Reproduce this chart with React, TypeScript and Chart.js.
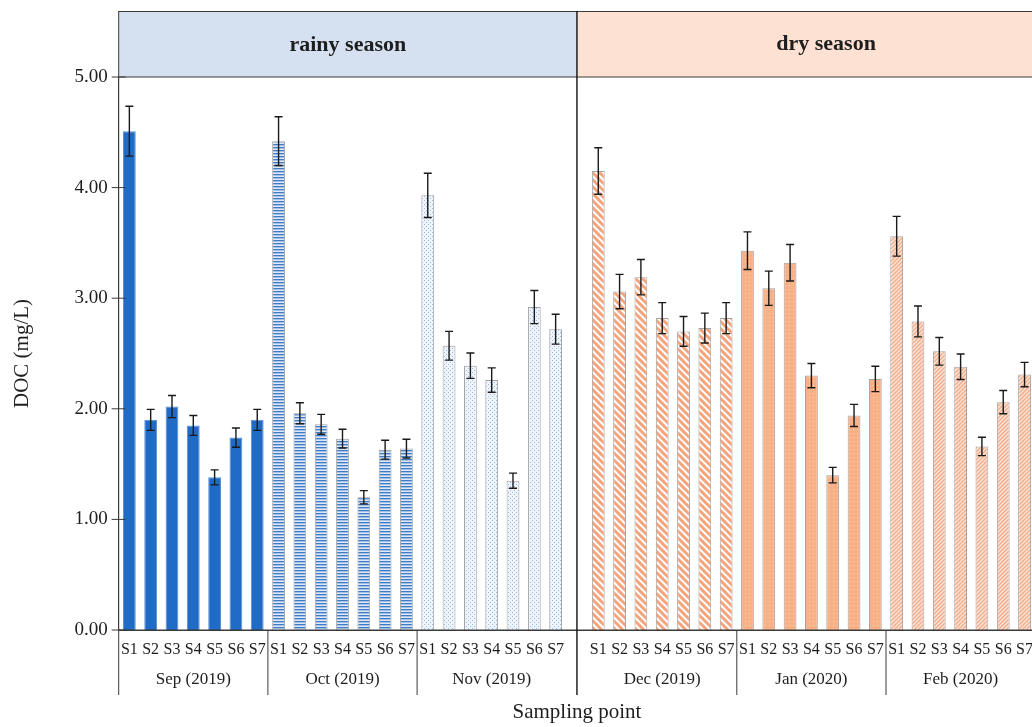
import React, { useEffect, useRef } from "react";
import { Chart, registerables } from "chart.js";

Chart.register(...registerables);

const sampleLabels = ["S1", "S2", "S3", "S4", "S5", "S6", "S7"];
const months = ["Sep (2019)", "Oct (2019)", "Nov (2019)", "Dec (2019)", "Jan (2020)", "Feb (2020)"];
const seasons = ["rainy season", "dry season"];
const yTicks = [0, 1, 2, 3, 4, 5];

const sepValues = [4.51, 1.9, 2.02, 1.85, 1.38, 1.74, 1.9];
const sepErrors = [0.225, 0.095, 0.1, 0.09, 0.068, 0.087, 0.095];
const octValues = [4.42, 1.96, 1.86, 1.73, 1.2, 1.63, 1.64];
const octErrors = [0.22, 0.095, 0.09, 0.085, 0.06, 0.085, 0.085];
const novValues = [3.93, 2.57, 2.39, 2.26, 1.35, 2.92, 2.72];
const novErrors = [0.2, 0.13, 0.115, 0.11, 0.068, 0.15, 0.135];
const decValues = [4.15, 3.06, 3.19, 2.82, 2.7, 2.73, 2.82];
const decErrors = [0.21, 0.155, 0.16, 0.14, 0.135, 0.135, 0.14];
const janValues = [3.43, 3.09, 3.32, 2.3, 1.4, 1.94, 2.27];
const janErrors = [0.17, 0.155, 0.165, 0.11, 0.07, 0.1, 0.115];
const febValues = [3.56, 2.79, 2.52, 2.38, 1.66, 2.06, 2.31];
const febErrors = [0.18, 0.14, 0.125, 0.115, 0.083, 0.105, 0.11];

const rainyValues = [sepValues, octValues, novValues];
const rainyErrors = [sepErrors, octErrors, novErrors];
const dryValues = [decValues, janValues, febValues];
const dryErrors = [decErrors, janErrors, febErrors];

const SERIF = "'Liberation Serif', 'DejaVu Serif', serif";
const TEXT = "#1e1e1e";
const LINE = "#3a3a3a";

// combined arrays: rainy months, one empty slot, dry months
const allLabels: string[] = [
  ...rainyValues.flatMap(() => sampleLabels),
  "",
  ...dryValues.flatMap(() => sampleLabels),
];
const allValues: (number | null)[] = [...rainyValues.flat(), null, ...dryValues.flat()];
const allErrors: (number | null)[] = [...rainyErrors.flat(), null, ...dryErrors.flat()];
const monthOf: number[] = [
  ...rainyValues.flatMap((m, k) => m.map(() => k)),
  -1,
  ...dryValues.flatMap((m, k) => m.map(() => k + 3)),
];
const monthRanges: [number, number][] = months.map((_, k) => {
  const idx = monthOf.map((m, i) => (m === k ? i : -1)).filter((i) => i >= 0);
  return [idx[0], idx[idx.length - 1]];
});
const gapIndex = allValues.indexOf(null);

function makePattern(kind: number): CanvasPattern | string {
  const c = document.createElement("canvas");
  const g = c.getContext("2d")!;
  if (kind === 0) return "#1f6bc5";
  if (kind === 1) {
    c.width = 4; c.height = 3;
    g.fillStyle = "#dde8f6"; g.fillRect(0, 0, 4, 3);
    g.fillStyle = "#3f7bc6"; g.fillRect(0, 0, 4, 1);
    g.fillStyle = "#a4c0e4"; g.fillRect(0, 1, 4, 1);
  } else if (kind === 2) {
    c.width = 4; c.height = 4;
    g.fillStyle = "#eef4fb"; g.fillRect(0, 0, 4, 4);
    g.fillStyle = "#9db9dd";
    g.fillRect(0, 0, 1, 1); g.fillRect(2, 2, 1, 1);
  } else if (kind === 3) {
    const p = 7;
    c.width = p; c.height = p;
    g.fillStyle = "#ffffff"; g.fillRect(0, 0, p, p);
    g.strokeStyle = "#f4a37b"; g.lineWidth = 3;
    g.beginPath();
    for (const o of [-p, 0, p]) {
      g.moveTo(o - 1, -1); g.lineTo(o + p + 1, p + 1);
    }
    g.stroke();
  } else if (kind === 4) {
    c.width = 4; c.height = 4;
    g.fillStyle = "#f8b186"; g.fillRect(0, 0, 4, 4);
    g.fillStyle = "#fcd2b8"; g.fillRect(1, 1, 1, 1);
  } else {
    const p = 4;
    c.width = p; c.height = p;
    g.fillStyle = "#fde4d6"; g.fillRect(0, 0, p, p);
    g.strokeStyle = "#f1ab88"; g.lineWidth = 1.3;
    g.beginPath();
    for (const o of [-p, 0, p]) {
      g.moveTo(o - 1, p + 1); g.lineTo(o + p + 1, -1);
    }
    g.stroke();
  }
  return g.createPattern(c, "repeat")!;
}

const decorPlugin = {
  id: "decor",
  beforeDatasetsDraw(chart: any) {
    const { ctx, chartArea } = chart;
    const x = chart.scales.x;
    const divX = x.getPixelForValue(gapIndex);
    const top = 11;
    ctx.save();
    ctx.fillStyle = "#d5e1f1";
    ctx.fillRect(chartArea.left, top, divX - chartArea.left, chartArea.top - top);
    ctx.fillStyle = "#fde1d3";
    ctx.fillRect(divX, top, chart.width - divX, chartArea.top - top);
    ctx.fillStyle = TEXT;
    ctx.font = `bold 22px ${SERIF}`;
    ctx.textAlign = "center";
    ctx.textBaseline = "middle";
    ctx.fillText(seasons[0], (chartArea.left + divX) / 2, 45);
    ctx.fillText(seasons[1], (divX + chartArea.right) / 2 + 20, 44);
    ctx.restore();
  },
  afterDatasetsDraw(chart: any) {
    const { ctx, chartArea } = chart;
    const x = chart.scales.x;
    const y = chart.scales.y;
    const meta = chart.getDatasetMeta(0);
    ctx.save();
    ctx.strokeStyle = "#1a1a1a";
    ctx.lineWidth = 1.4;
    meta.data.forEach((bar: any, i: number) => {
      const v = allValues[i];
      const e = allErrors[i];
      if (v == null || e == null) return;
      const bx = bar.x;
      const yt = y.getPixelForValue(v + e);
      const yb = y.getPixelForValue(v - e);
      ctx.beginPath();
      ctx.moveTo(bx, yt); ctx.lineTo(bx, yb);
      ctx.moveTo(bx - 4, yt); ctx.lineTo(bx + 4, yt);
      ctx.moveTo(bx - 4, yb); ctx.lineTo(bx + 4, yb);
      ctx.stroke();
    });
    ctx.restore();

    const divX = x.getPixelForValue(gapIndex);
    const top = 11;
    const bottom = chartArea.bottom + 65;
    ctx.save();
    ctx.strokeStyle = LINE;
    ctx.lineWidth = 1;
    ctx.beginPath();
    ctx.moveTo(chartArea.left, top + 0.5); ctx.lineTo(chart.width, top + 0.5);
    ctx.moveTo(chartArea.left, chartArea.top); ctx.lineTo(chart.width, chartArea.top);
    ctx.moveTo(chartArea.left, top); ctx.lineTo(chartArea.left, bottom);
    ctx.moveTo(chartArea.left, chartArea.bottom); ctx.lineTo(chart.width, chartArea.bottom);
    yTicks.forEach((t) => {
      const py = y.getPixelForValue(t);
      ctx.moveTo(chartArea.left - 7, py); ctx.lineTo(chartArea.left + 7, py);
    });
    monthRanges.forEach(([a], k) => {
      if (k === 0 || k === 3) return;
      const sx = (x.getPixelForValue(a) + x.getPixelForValue(a - 1)) / 2;
      ctx.moveTo(sx, chartArea.bottom); ctx.lineTo(sx, bottom);
    });
    ctx.stroke();
    ctx.strokeStyle = "#111";
    ctx.lineWidth = 1.4;
    ctx.beginPath();
    ctx.moveTo(divX, top); ctx.lineTo(divX, bottom);
    ctx.stroke();
    ctx.fillStyle = TEXT;
    ctx.font = `17px ${SERIF}`;
    ctx.textAlign = "center";
    ctx.textBaseline = "middle";
    monthRanges.forEach(([a, b], k) => {
      const cx = (x.getPixelForValue(a) + x.getPixelForValue(b)) / 2;
      ctx.fillText(months[k], cx, chartArea.bottom + 50);
    });
    ctx.restore();
  },
};

export default function App() {
  const ref = useRef<HTMLCanvasElement | null>(null);
  useEffect(() => {
    if (!ref.current) return;
    const kinds = monthOf.map((m) => (m < 0 ? 0 : m));
    const patterns = [0, 1, 2, 3, 4, 5].map((k) => makePattern(k));
    const chart = new Chart(ref.current, {
      type: "bar",
      data: {
        labels: allLabels,
        datasets: [
          {
            data: allValues as any,
            backgroundColor: kinds.map((k) => patterns[k]) as any,
            borderColor: kinds.map((k) => (k === 0 ? "#5a8fd2" : "#a3a3a3")),
            borderWidth: 1,
            barPercentage: 0.6,
            categoryPercentage: 1.0,
          },
        ],
      },
      options: {
        animation: false,
        responsive: false,
        devicePixelRatio: 1,
        layout: { padding: { top: 77, left: 0, right: 0, bottom: 0 } },
        plugins: { legend: { display: false }, tooltip: { enabled: false } },
        scales: {
          x: {
            ticks: {
              autoSkip: false,
              maxRotation: 0,
              minRotation: 0,
              font: { family: SERIF, size: 16 },
              color: TEXT,
              padding: 10,
            },
            grid: { display: false, drawTicks: false },
            border: { display: true, color: LINE, width: 1 },
            title: {
              display: true,
              text: "Sampling point",
              font: { family: SERIF, size: 21 },
              color: TEXT,
              padding: { top: 0, bottom: 2 },
            },
            afterFit: (s: any) => {
              s.height = 97;
            },
          },
          y: {
            min: 0,
            max: 5,
            afterBuildTicks: (s: any) => {
              s.ticks = yTicks.map((v) => ({ value: v }));
            },
            ticks: {
              callback: (v: any) => Number(v).toFixed(2),
              font: { family: SERIF, size: 19 },
              color: TEXT,
              padding: 11,
            },
            grid: { display: false, drawTicks: false },
            border: { display: true, color: LINE, width: 1 },
            title: {
              display: true,
              text: "DOC (mg/L)",
              font: { family: SERIF, size: 21 },
              color: TEXT,
              padding: { top: 10, bottom: 0 },
            },
            afterFit: (s: any) => {
              s.width = 118.7;
            },
          },
        },
      },
      plugins: [decorPlugin],
    });
    return () => chart.destroy();
  }, []);
  return (
    <div
      style={{
        position: "fixed",
        left: 0,
        top: 0,
        width: 1032,
        height: 727,
        overflow: "hidden",
        background: "#fff",
      }}
    >
      <canvas ref={ref} width={1043} height={727} style={{ display: "block" }} />
    </div>
  );
}
